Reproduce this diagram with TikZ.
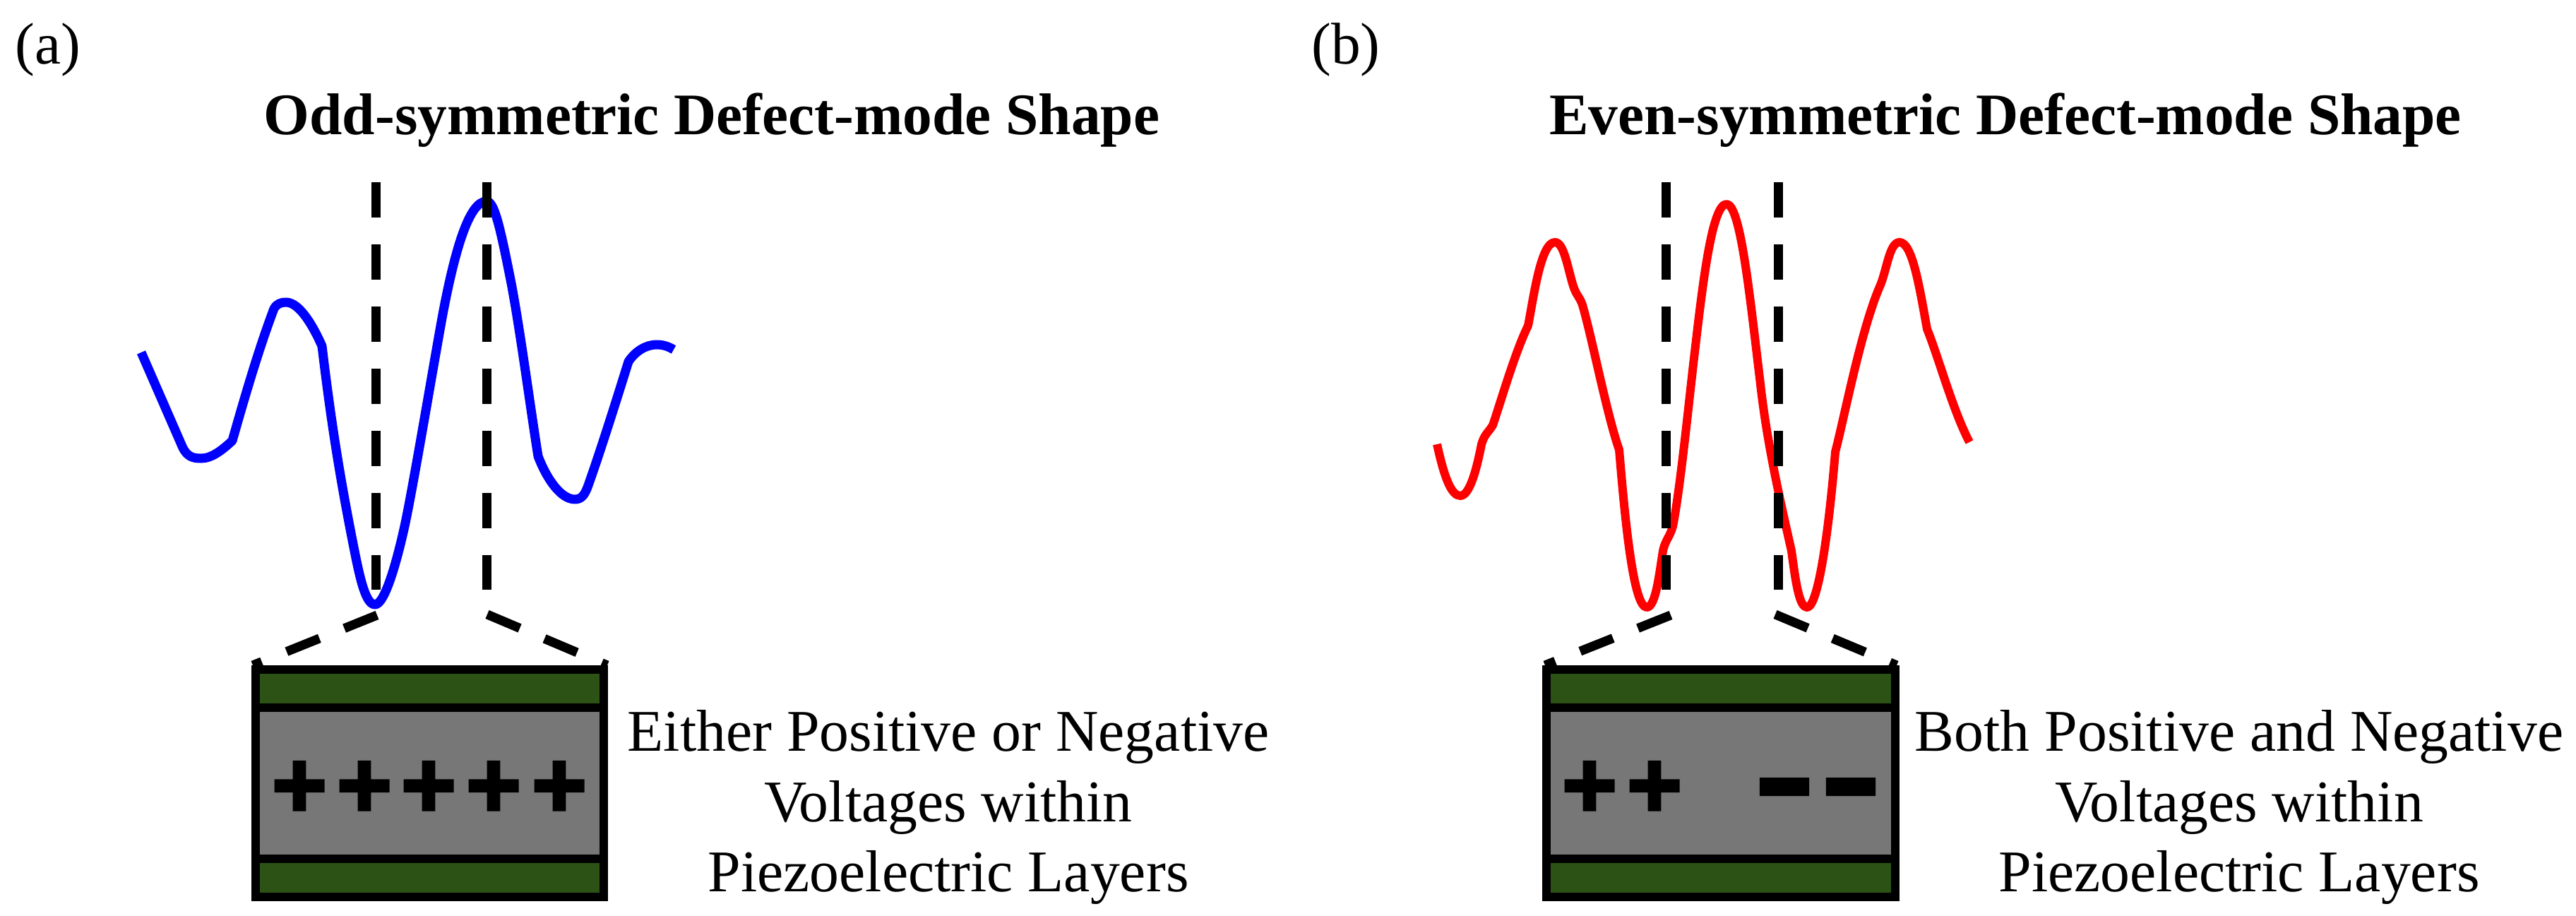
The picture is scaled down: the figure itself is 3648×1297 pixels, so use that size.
\documentclass[tikz,border=0pt]{standalone}
\usepackage{fontspec}
\setmainfont{Liberation Serif}
\newfontfamily\signfont[FakeBold=3]{Liberation Sans}
\usetikzlibrary{positioning}
\definecolor{platecolor}{HTML}{2C5216}
\definecolor{corecolor}{HTML}{777777}

\begin{document}
\begin{tikzpicture}[
    x=0.01cm, y=-0.01cm,
    core/.style={draw, line width=0.12cm, fill=corecolor, inner sep=0pt, outer sep=0pt, minimum width=4.93cm, minimum height=2.14cm},
    plate/.style={draw, line width=0.12cm, fill=platecolor, inner sep=0pt, outer sep=0pt, minimum width=4.93cm, minimum height=0.54cm},
    sign/.style={font=\signfont\bfseries\fontsize{38}{38}\selectfont, inner sep=0pt, text=black},
    note/.style={align=center, inner sep=0pt, font=\fontsize{23.8}{28.4}\selectfont},
    heading/.style={inner sep=0pt, font=\bfseries\fontsize{23.7}{28.4}\selectfont},
    panel/.style={inner sep=0pt, font=\fontsize{23.7}{28.4}\selectfont},
    guide/.style={line width=0.13cm, dash pattern=on 0.5cm off 0.38cm},
    wave/.style={line width=0.13cm, line join=round}
]
    \useasboundingbox (0,0) rectangle (3648,1297);

    % left panel
    \node[panel] (labelA) at (68,70) {(a)};
    \node[heading] (titleA) at (1008,170) {Odd-symmetric Defect-mode Shape};

    \draw[wave, blue] (200,499) -- (258,632)
        .. controls (265,648) and (275,649) .. (285,649)
        .. controls (300,649) and (315,637) .. (329,624)
        .. controls (350,550) and (368,490) .. (388,437)
        .. controls (392,430) and (398,428) .. (405,428)
        .. controls (425,428) and (445,465) .. (456,490)
        .. controls (468,590) and (480,670) .. (502,780)
        .. controls (510,820) and (518,856) .. (531,856)
        .. controls (545,856) and (562,795) .. (573,745)
        .. controls (585,690) and (615,510) .. (627,445)
        .. controls (645,350) and (665,285) .. (689,285)
        .. controls (700,285) and (708,320) .. (724,401)
        .. controls (737,470) and (750,570) .. (762,646)
        .. controls (775,680) and (795,707) .. (814,707)
        .. controls (822,707) and (827,703) .. (832,690)
        .. controls (850,640) and (875,560) .. (890,512)
        .. controls (900,497) and (915,488) .. (930,488)
        .. controls (940,488) and (947,491) .. (954,495);

    \coordinate (topA1) at (532,258);
    \coordinate (botA1) at (532,835);
    \coordinate (topA2) at (689,258);
    \coordinate (botA2) at (689,835);
    \coordinate (kinkA1) at (534,871);
    \coordinate (kinkA2) at (690,870);
    \coordinate (edgeA1) at (358,942);
    \coordinate (edgeA2) at (860,942);
    \draw[guide] (topA1) -- (botA1);
    \draw[guide] (topA2) -- (botA2);
    \draw[guide] (kinkA1) -- (edgeA1);
    \draw[guide] (kinkA2) -- (edgeA2);

    \node[core] (coreA) at (608.5,1109) {};
    \node[plate] (upperA) [above=0pt of coreA] {};
    \node[plate] (lowerA) [below=0pt of coreA] {};
    \foreach \i/\xpos in {1/424, 2/516, 3/607, 4/699, 5/792}
        \node[sign] (plusA\i) at (\xpos,1118) {+};
    \node[note] (noteA) at (1343,1143) {Either Positive or Negative\\Voltages within\\Piezoelectric Layers};

    % right panel
    \node[panel] (labelB) at (1906,70) {(b)};
    \node[heading] (titleB) at (2840,170) {Even-symmetric Defect-mode Shape};

    \draw[wave, red, line width=0.12cm] (2035,629)
        .. controls (2045,675) and (2055,702) .. (2068,702)
        .. controls (2082,702) and (2092,660) .. (2098,629)
        .. controls (2102,615) and (2108,612) .. (2114,602)
        .. controls (2125,570) and (2145,500) .. (2164,461)
        .. controls (2172,420) and (2182,343) .. (2202,343)
        .. controls (2215,343) and (2220,380) .. (2228,405)
        .. controls (2232,418) and (2237,420) .. (2241,432)
        .. controls (2255,480) and (2275,585) .. (2293,637)
        .. controls (2300,720) and (2312,860) .. (2332,860)
        .. controls (2345,860) and (2350,810) .. (2355,780)
        .. controls (2358,765) and (2365,760) .. (2369,745)
        .. controls (2380,690) and (2393,555) .. (2401,490)
        .. controls (2412,395) and (2425,289) .. (2445,289)
        .. controls (2465,289) and (2478,420) .. (2493,544)
        .. controls (2502,625) and (2520,705) .. (2537,780)
        .. controls (2543,825) and (2548,860) .. (2559,860)
        .. controls (2575,860) and (2590,750) .. (2599,640)
        .. controls (2612,590) and (2635,470) .. (2661,408)
        .. controls (2672,385) and (2675,343) .. (2690,343)
        .. controls (2708,343) and (2718,405) .. (2729,466)
        .. controls (2745,505) and (2765,580) .. (2789,626);

    \coordinate (topB1) at (2359,258);
    \coordinate (botB1) at (2359,835);
    \coordinate (topB2) at (2518,258);
    \coordinate (botB2) at (2518,835);
    \coordinate (kinkB1) at (2366,871);
    \coordinate (kinkB2) at (2514,870);
    \coordinate (edgeB1) at (2188,942);
    \coordinate (edgeB2) at (2686,942);
    \draw[guide] (topB1) -- (botB1);
    \draw[guide] (topB2) -- (botB2);
    \draw[guide] (kinkB1) -- (edgeB1);
    \draw[guide] (kinkB2) -- (edgeB2);

    \node[core] (coreB) at (2437,1109) {};
    \node[plate] (upperB) [above=0pt of coreB] {};
    \node[plate] (lowerB) [below=0pt of coreB] {};
    \node[sign] (plusB1) at (2251,1118) {+};
    \node[sign] (plusB2) at (2343,1118) {+};
    \node[sign] (minusB1) at (2527,1136) {\scalebox{1}[1.5]{\textendash}};
    \node[sign] (minusB2) at (2621,1136) {\scalebox{1}[1.5]{\textendash}};
    \node[note] (noteB) at (3171,1143) {Both Positive and Negative\\Voltages within\\Piezoelectric Layers};
\end{tikzpicture}
\end{document}
